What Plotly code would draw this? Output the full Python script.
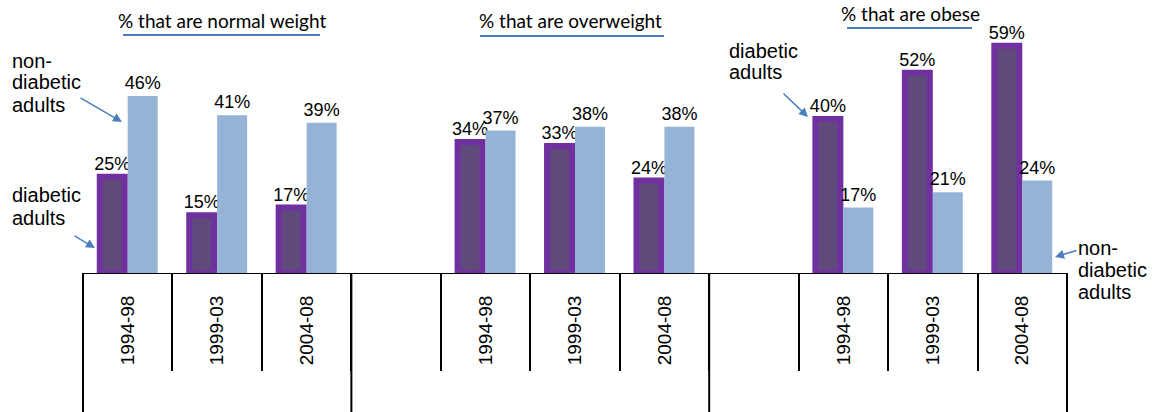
import plotly.graph_objects as go

# Survey periods shown in each panel
periods = ["1994-98", "1999-03", "2004-08"]
panels = ["% that are normal weight", "% that are overweight", "% that are obese"]

# Share of diabetic adults (%) per period
diabetic_normal = [25, 15, 17]
diabetic_overweight = [34, 33, 24]
diabetic_obese = [40, 52, 59]

# Share of non-diabetic adults (%) per period
nondiabetic_normal = [46, 41, 39]
nondiabetic_overweight = [37, 38, 38]
nondiabetic_obese = [17, 21, 24]

diabetic = diabetic_normal + diabetic_overweight + diabetic_obese
nondiabetic = nondiabetic_normal + nondiabetic_overweight + nondiabetic_obese

# Each panel after the first is preceded by one empty slot
panel_start = [0, 4, 8]
xs = [s + i for s in panel_start for i in range(len(periods))]
n_slots = panel_start[-1] + len(periods)
slot_edges = [k - 0.5 for k in range(n_slots + 1)]
group_edges = [-0.5, 2.5, 6.5, n_slots - 0.5]

W, H = 1155, 412
L, R, T, B = 83, 88, 0, 139
PW, PH = W - L - R, H - T - B


def px(x):
    return (x - L) / PW


def py(y):
    return (H - B - y) / PH


ARIAL = "Liberation Sans, Arial, sans-serif"
TITLE_FONT = "Lato, Calibri, sans-serif"
ARROW = "#4A7EBB"

fig = go.Figure()

fig.add_trace(go.Bar(
    x=xs, y=diabetic, name="diabetic adults",
    offset=-0.3125, width=0.279,
    marker=dict(color="#604A7B", line=dict(color="#7030A0", width=6)),
    texttemplate="%{y}%", textposition="outside", constraintext="none",
    textfont=dict(family=ARIAL, size=18, color="black"), cliponaxis=False,
))
fig.add_trace(go.Bar(
    x=xs, y=nondiabetic, name="non-diabetic adults",
    offset=0.0, width=0.335,
    marker=dict(color="#95B3D7", line=dict(width=0)),
    texttemplate="%{y}%", textposition="outside", constraintext="none",
    textfont=dict(family=ARIAL, size=18, color="black"), cliponaxis=False,
))

fig.update_layout(
    width=W, height=H, autosize=False,
    margin=dict(l=L, r=R, t=T, b=B, pad=0),
    paper_bgcolor="white", plot_bgcolor="white",
    barmode="overlay", showlegend=False,
    xaxis=dict(
        range=[-0.5, n_slots - 0.5],
        tickmode="array", tickvals=xs, ticktext=periods * len(panels),
        tickangle=-90, tickfont=dict(family=ARIAL, size=19, color="black"),
        ticks="", ticklabelstandoff=14,
        showline=True, linecolor="black", linewidth=1,
        showgrid=False, zeroline=False,
        minor=dict(tickmode="array", tickvals=slot_edges, ticks="outside",
                   ticklen=97, tickwidth=2, tickcolor="black", showgrid=False),
    ),
    yaxis=dict(range=[0, 70.9], visible=False),
)

# Panel separators running down through the label area
for e in group_edges:
    xe = (e + 0.5) / n_slots
    fig.add_shape(type="line", xref="paper", yref="paper",
                  x0=xe, x1=xe, y0=0, y1=-0.6,
                  line=dict(color="black", width=2))

# Panel titles with underline
titles = [(222, 21, 123, 320, 35), (570, 21, 480, 664, 36), (910, 13, 847, 972, 28)]
for text, (cx, cy, u0, u1, uy) in zip(panels, titles):
    fig.add_annotation(text=text, xref="paper", yref="paper",
                       x=px(cx), y=py(cy), xanchor="center", yanchor="middle",
                       showarrow=False,
                       font=dict(family=TITLE_FONT, size=19, color="black"))
    fig.add_shape(type="line", xref="paper", yref="paper",
                  x0=px(u0), x1=px(u1), y0=py(uy), y1=py(uy),
                  line=dict(color=ARROW, width=2))

# Series call-outs, one line per annotation
callouts = [
    (10, [61, 82, 105], ["non-", "diabetic", "adults"]),
    (10, [195, 218], ["diabetic", "adults"]),
    (727, [51, 72], ["diabetic", "adults"]),
    (1076, [248, 270, 292], ["non-", "diabetic", "adults"]),
]
for x0, ys, lines in callouts:
    for yy, line in zip(ys, lines):
        fig.add_annotation(text=line, xref="paper", yref="paper",
                           x=px(x0), y=py(yy), xanchor="left", yanchor="middle",
                           showarrow=False,
                           font=dict(family=ARIAL, size=20, color="black"))

# Arrows: (tail x, tail y, head x, head y)
arrows = [(79, 97, 122, 122), (73, 235, 95, 248), (782, 92, 808, 117), (1078, 250, 1055, 257)]
for tx, ty, hx, hy in arrows:
    fig.add_annotation(text="", xref="paper", yref="paper",
                       x=px(hx), y=py(hy), ax=tx - hx, ay=ty - hy,
                       showarrow=True, arrowhead=2, arrowsize=1.2, arrowwidth=1.5,
                       arrowcolor=ARROW, standoff=0, startstandoff=0)

fig.write_html("out.html")
